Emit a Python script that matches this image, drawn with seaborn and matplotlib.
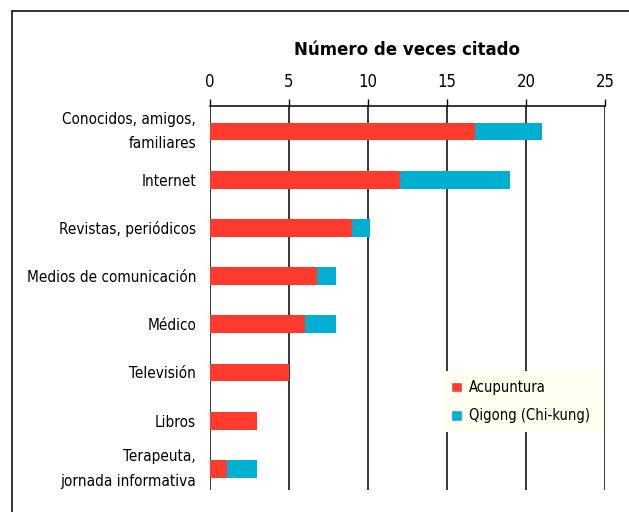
import matplotlib
matplotlib.use('Agg')
import matplotlib.pyplot as plt
import seaborn as sns
import pandas as pd
from matplotlib.patches import Patch
from matplotlib.lines import Line2D

# --- datos ---
categorias = ["Conocidos, amigos,\nfamiliares", "Internet", "Revistas, periódicos",
              "Medios de comunicación", "Médico", "Televisión", "Libros",
              "Terapeuta,\njornada informativa"]
acupuntura = [16.8, 12, 9, 6.8, 6, 5, 3, 1.1]
qigong = [4.2, 7, 1.1, 1.2, 2, 0, 0, 1.9]
series = ["Acupuntura", "Qigong (Chi-kung)"]
x_ticks = [0, 5, 10, 15, 20, 25]

ROJO = "#FF3B2E"
CIAN = "#00AFD1"

sns.set_theme(style="white")
plt.rcParams['font.family'] = ['DejaVu Sans']
plt.rcParams['font.stretch'] = 'condensed'
plt.rcParams['text.color'] = 'black'
plt.rcParams['axes.labelcolor'] = 'black'
plt.rcParams['xtick.color'] = 'black'
plt.rcParams['ytick.color'] = 'black'

df = pd.DataFrame({"cat": categorias, "acu": acupuntura, "qi": qigong})
df["total"] = df["acu"] + df["qi"]

fig = plt.figure(figsize=(6.29, 5.12), dpi=100)
ax = fig.add_axes([210 / 629, 1 - 490 / 512, 395 / 629, 384 / 512])

sns.barplot(data=df, x="total", y="cat", color=CIAN, width=0.37, ax=ax,
            saturation=1, orient="h", linewidth=0)
sns.barplot(data=df, x="acu", y="cat", color=ROJO, width=0.37, ax=ax,
            saturation=1, orient="h", linewidth=0)

ax.set_xlim(0, 25)
ax.set_ylim(7.44, -0.53)
ax.set_xticks(x_ticks)
ax.xaxis.tick_top()
ax.xaxis.set_label_position("top")
ax.set_xlabel("Número de veces citado", fontsize=13.3, fontweight="bold", labelpad=13)
ax.set_ylabel("")
ax.tick_params(axis="x", which="both", top=True, bottom=False, length=5, width=1,
               color="black", labelsize=12, pad=6, direction="out")
ax.tick_params(axis="y", length=0, labelsize=11, pad=10)
for t in ax.get_yticklabels():
    if "\n" in t.get_text():
        t.set_linespacing(1.8)
        t.set_verticalalignment("center")

for v in x_ticks:
    ax.axvline(v, color="black", lw=1.1, zorder=0)

for s in ["left", "right", "bottom"]:
    ax.spines[s].set_visible(False)
ax.spines["top"].set_visible(True)
ax.spines["top"].set_color("black")
ax.spines["top"].set_linewidth(1.1)

handles = [Patch(facecolor=ROJO, label=series[0]), Patch(facecolor=CIAN, label=series[1])]
leg = ax.legend(handles=handles, loc="lower left",
                bbox_to_anchor=((442 - 210) / 395, (490 - 432) / 384, 160 / 395, 52 / 384),
                mode="expand", frameon=True, fontsize=10.5, handlelength=0.75, handleheight=0.75,
                handletextpad=0.5, labelspacing=0.9, borderpad=0.6, borderaxespad=0,
                fancybox=False)
leg.get_frame().set_facecolor("#FFFFF0")
leg.get_frame().set_edgecolor("none")
leg.get_frame().set_alpha(1)

# marco de la figura (arriba e izquierda)
fig.add_artist(Line2D([12 / 629, 1], [1 - 11 / 512, 1 - 11 / 512], color="#222222", lw=1.3))
fig.add_artist(Line2D([12 / 629, 12 / 629], [0, 1 - 11 / 512], color="#222222", lw=1.3))

fig.savefig("out.png", dpi=100)
